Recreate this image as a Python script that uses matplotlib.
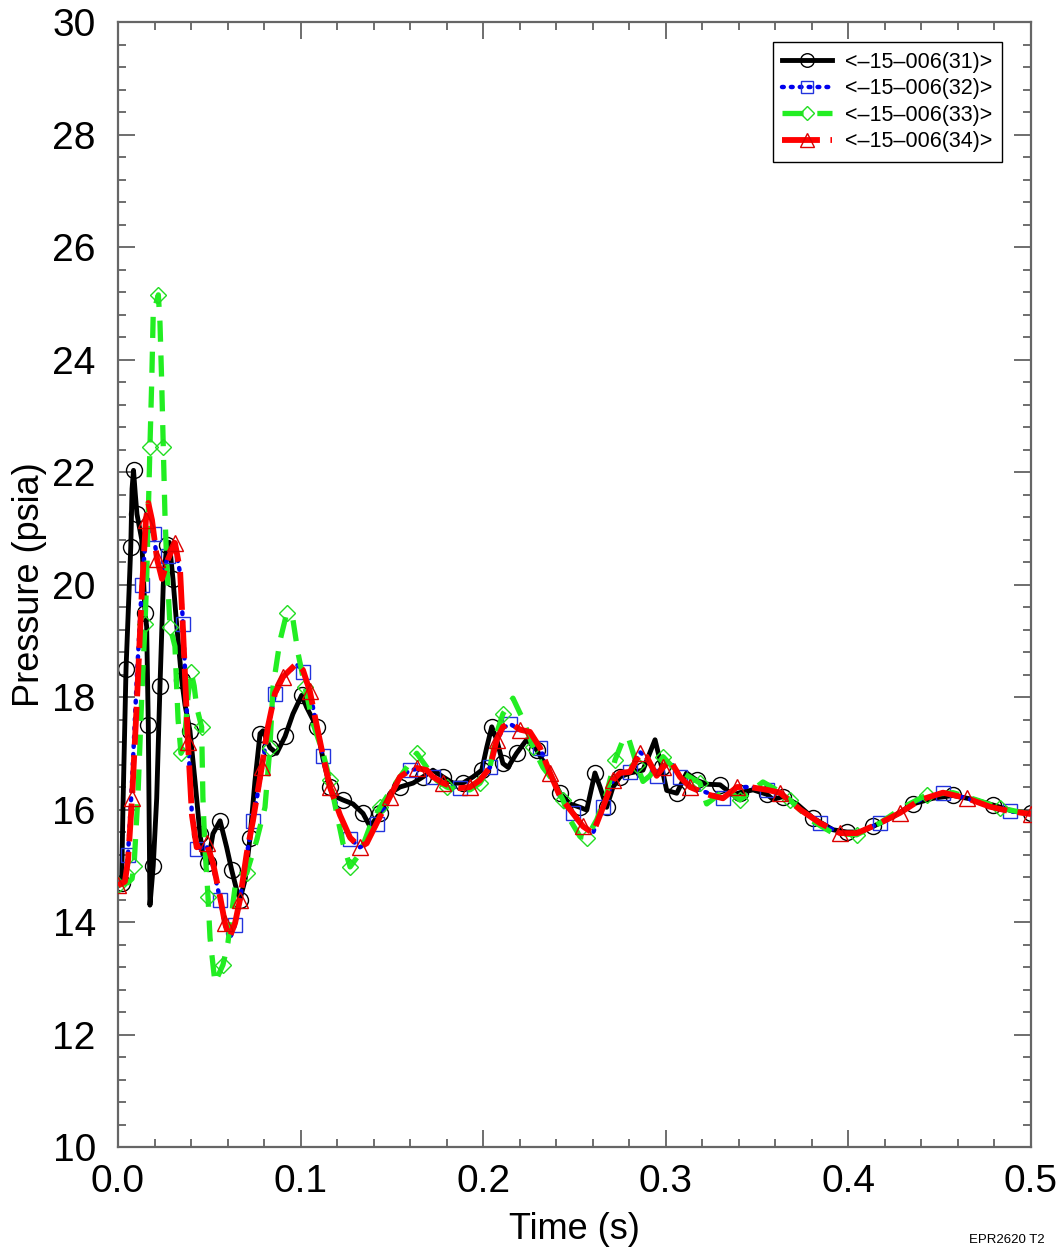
import numpy as np
import matplotlib
matplotlib.use("Agg")
from matplotlib import pyplot as plt
from matplotlib.legend_handler import HandlerLine2D
from matplotlib.ticker import MultipleLocator

plt.rcParams['font.family'] = ['Liberation Sans', 'DejaVu Sans']

t31 = [0, 0.002, 0.0027, 0.0044, 0.0056, 0.0070, 0.0077, 0.0085, 0.0095, 0.0104, 0.0130,
       0.0148, 0.0157, 0.0166, 0.0175, 0.0193, 0.0212, 0.0230, 0.0248, 0.0267, 0.0281,
       0.0301, 0.0321, 0.0349, 0.0367, 0.0394, 0.0422, 0.0449, 0.0465, 0.0493, 0.0520,
       0.0559, 0.0595, 0.0623, 0.0650, 0.0668, 0.0696, 0.0723, 0.0750, 0.0778, 0.0794,
       0.0832, 0.0869, 0.0915, 0.0958, 0.1006, 0.1033, 0.1088, 0.1123, 0.1161, 0.1177,
       0.1232, 0.1287, 0.1342, 0.1380, 0.1435, 0.1490, 0.1544, 0.1616, 0.1670, 0.1725,
       0.1780, 0.1835, 0.1889, 0.1944, 0.1992, 0.2019, 0.2047, 0.2074, 0.2108, 0.2136,
       0.2183, 0.2238, 0.2293, 0.2348, 0.2421, 0.2475, 0.2530, 0.2567, 0.2612, 0.2640,
       0.2676, 0.2711, 0.2749, 0.2804, 0.2875, 0.2941, 0.2978, 0.3005, 0.3060, 0.3114,
       0.3169, 0.3226, 0.3297, 0.3368, 0.3406, 0.3478, 0.3554, 0.3587, 0.3642, 0.3718,
       0.3806, 0.3916, 0.3992, 0.4064, 0.4135, 0.4244, 0.4354, 0.4463, 0.4573, 0.4682,
       0.4792, 0.4901, 0.5]
p31 = [14.65, 14.7, 16.0, 18.5, 19.5, 20.67, 21.7, 22.03, 21.6, 21.25, 20.8,
       19.5, 19.25, 17.5, 14.3, 15.0, 16.2, 18.2, 20.0, 20.7, 20.75,
       20.1, 19.3, 18.3, 17.86, 17.4, 16.5, 15.57, 15.2, 15.05, 15.57,
       15.8, 15.33, 14.92, 14.57, 14.4, 14.75, 15.5, 16.5, 17.35, 17.4,
       17.1, 17.0, 17.3, 17.7, 18.03, 17.82, 17.47, 16.9, 16.4, 16.25,
       16.17, 16.1, 15.93, 15.7, 15.93, 16.29, 16.4, 16.47, 16.58, 16.7,
       16.58, 16.47, 16.47, 16.58, 16.7, 17.1, 17.47, 17.24, 16.82, 16.75,
       17.0, 17.24, 17.06, 16.75, 16.29, 16.1, 16.04, 15.99, 16.65, 16.4,
       16.04, 16.4, 16.58, 16.65, 16.7, 17.24, 16.75, 16.34, 16.29, 16.65,
       16.52, 16.45, 16.44, 16.26, 16.3, 16.35, 16.27, 16.18, 16.23, 16.1,
       15.85, 15.64, 15.6, 15.6, 15.7, 15.87, 16.1, 16.2, 16.25, 16.18,
       16.08, 15.97, 15.93]

t32 = [0, 0.0038, 0.0055, 0.0077, 0.0104, 0.0131, 0.0153, 0.0175, 0.0195, 0.0214, 0.0241,
       0.0274, 0.0312, 0.0340, 0.0356, 0.0383, 0.0405, 0.0431, 0.0486, 0.0520, 0.0559,
       0.0586, 0.0612, 0.0641, 0.0668, 0.0705, 0.0739, 0.0787, 0.0821, 0.0860, 0.0904,
       0.0979, 0.1013, 0.1051, 0.1088, 0.1123, 0.1161, 0.1216, 0.1271, 0.1325, 0.1362,
       0.1417, 0.1490, 0.1544, 0.1599, 0.1636, 0.1691, 0.1725, 0.1780, 0.1835, 0.1873,
       0.1928, 0.1982, 0.2037, 0.2074, 0.2108, 0.2147, 0.2202, 0.2256, 0.2311, 0.2366,
       0.2421, 0.2492, 0.2547, 0.2601, 0.2656, 0.2711, 0.2749, 0.2804, 0.2859, 0.2895,
       0.2950, 0.2985, 0.3023, 0.3078, 0.3133, 0.3226, 0.3313, 0.3390, 0.3461, 0.3554,
       0.3625, 0.3735, 0.3844, 0.3954, 0.4047, 0.4173, 0.4282, 0.4392, 0.4518, 0.4650,
       0.4775, 0.4885, 0.5]
p32 = [14.65, 14.75, 15.2, 16.5, 18.4, 20.0, 20.85, 21.0, 20.9, 20.45, 20.15,
       20.5, 20.72, 20.2, 19.3, 17.3, 15.9, 15.3, 15.35, 15.0, 14.4,
       13.95, 13.7, 13.95, 14.4, 15.2, 15.8, 16.7, 17.45, 18.05, 18.35,
       18.58, 18.45, 18.08, 17.5, 16.95, 16.4, 15.9, 15.48, 15.33, 15.4,
       15.75, 16.22, 16.57, 16.7, 16.72, 16.7, 16.58, 16.47, 16.4, 16.38,
       16.4, 16.52, 16.75, 17.2, 17.45, 17.52, 17.42, 17.38, 17.1, 16.65,
       16.23, 15.93, 15.7, 15.58, 16.04, 16.52, 16.65, 16.67, 17.02, 16.92,
       16.6, 16.75, 16.86, 16.58, 16.4, 16.3, 16.2, 16.4, 16.4, 16.35,
       16.3, 16.0, 15.76, 15.58, 15.57, 15.76, 15.94, 16.17, 16.3, 16.2,
       16.05, 15.97, 15.92]

t33 = [0, 0.0055, 0.0077, 0.0088, 0.0110, 0.0130, 0.0148, 0.0157, 0.0166, 0.0175, 0.0185,
       0.0193, 0.0221, 0.0230, 0.0239, 0.0248, 0.0257, 0.0267, 0.0285, 0.0312, 0.0329,
       0.0345, 0.0361, 0.0383, 0.0400, 0.0417, 0.0431, 0.0458, 0.0465, 0.0476, 0.0493,
       0.0504, 0.0531, 0.0575, 0.0602, 0.0641, 0.0705, 0.0760, 0.0805, 0.0832, 0.0849,
       0.0887, 0.0924, 0.0958, 0.0986, 0.1024, 0.1068, 0.1123, 0.1161, 0.1198, 0.1232,
       0.1271, 0.1325, 0.1380, 0.1435, 0.1506, 0.1581, 0.1636, 0.1691, 0.1745, 0.1800,
       0.1855, 0.1928, 0.1982, 0.2037, 0.2074, 0.2108, 0.2163, 0.2218, 0.2273, 0.2327,
       0.2382, 0.2437, 0.2475, 0.2530, 0.2567, 0.2622, 0.2676, 0.2722, 0.2766, 0.2793,
       0.2841, 0.2875, 0.2913, 0.2985, 0.3039, 0.3094, 0.3187, 0.3224, 0.3333, 0.3406,
       0.3532, 0.3607, 0.3680, 0.3790, 0.3916, 0.4045, 0.4173, 0.4299, 0.4429, 0.4573,
       0.4703, 0.4830, 0.4976, 0.5]
p33 = [14.65, 14.7, 14.77, 15.0, 16.3, 18.0, 19.3, 20.08, 21.27, 22.45, 23.64,
       24.82, 25.15, 24.65, 23.64, 22.45, 21.27, 20.38, 19.25, 18.9, 17.6,
       17.0, 17.1, 18.0, 18.45, 18.2, 17.82, 17.47, 16.22, 15.33, 14.45,
       13.72, 12.92, 13.24, 13.63, 14.62, 14.87, 15.46, 16.04, 17.1, 18.18,
       19.0, 19.49, 19.38, 18.78, 18.18, 17.53, 17.0, 16.52, 15.93, 15.4,
       14.98, 15.22, 15.7, 16.04, 16.4, 16.75, 17.0, 16.75, 16.52, 16.4,
       16.35, 16.35, 16.47, 16.75, 17.36, 17.7, 17.98, 17.6, 17.11, 16.75,
       16.52, 16.17, 15.82, 15.52, 15.5, 15.82, 16.29, 16.88, 17.24, 17.3,
       16.8, 16.5, 16.6, 16.94, 16.75, 16.65, 16.47, 16.1, 16.37, 16.17,
       16.49, 16.35, 16.17, 15.82, 15.58, 15.55, 15.76, 16.04, 16.26, 16.3,
       16.17, 16.03, 15.93, 15.92]

t34 = [0, 0.0038, 0.0055, 0.0077, 0.0104, 0.0131, 0.0153, 0.0166, 0.0186, 0.0214, 0.0241,
       0.0274, 0.0312, 0.0340, 0.0356, 0.0383, 0.0405, 0.0431, 0.0486, 0.0520, 0.0559,
       0.0586, 0.0610, 0.0641, 0.0668, 0.0705, 0.0739, 0.0787, 0.0821, 0.0860, 0.0904,
       0.0979, 0.1013, 0.1051, 0.1088, 0.1123, 0.1161, 0.1216, 0.1271, 0.1325, 0.1362,
       0.1417, 0.1490, 0.1544, 0.1599, 0.1636, 0.1691, 0.1725, 0.1780, 0.1835, 0.1873,
       0.1928, 0.1982, 0.2037, 0.2074, 0.2108, 0.2147, 0.2202, 0.2256, 0.2311, 0.2366,
       0.2421, 0.2492, 0.2547, 0.2601, 0.2656, 0.2711, 0.2749, 0.2804, 0.2859, 0.2895,
       0.2950, 0.2985, 0.3023, 0.3078, 0.3133, 0.3226, 0.3313, 0.3390, 0.3461, 0.3554,
       0.3625, 0.3735, 0.3844, 0.3954, 0.4047, 0.4173, 0.4282, 0.4392, 0.4518, 0.4650,
       0.4775, 0.4885, 0.5]
p34 = [14.65, 14.72, 15.1, 16.2, 17.95, 19.9, 21.15, 21.45, 21.15, 20.45, 20.1,
       20.45, 20.74, 20.25, 19.2, 17.2, 15.9, 15.33, 15.4, 15.05, 14.45,
       13.98, 13.72, 13.98, 14.4, 15.22, 15.8, 16.75, 17.47, 18.07, 18.36,
       18.6, 18.48, 18.1, 17.5, 16.95, 16.4, 15.9, 15.5, 15.33, 15.4,
       15.76, 16.23, 16.58, 16.7, 16.74, 16.7, 16.58, 16.47, 16.4, 16.38,
       16.4, 16.52, 16.75, 17.24, 17.47, 17.54, 17.42, 17.38, 17.1, 16.65,
       16.23, 15.93, 15.7, 15.58, 16.04, 16.52, 16.65, 16.67, 17.0, 16.94,
       16.6, 16.75, 16.88, 16.58, 16.4, 16.27, 16.2, 16.4, 16.4, 16.35,
       16.3, 16.0, 15.76, 15.58, 15.58, 15.76, 15.94, 16.17, 16.3, 16.2,
       16.05, 15.97, 15.92]

labels = ['<\u201315\u2013006(31)>', '<\u201315\u2013006(32)>',
          '<\u201315\u2013006(33)>', '<\u201315\u2013006(34)>']


class EndMarkerHandler(HandlerLine2D):
    # line across the handle, marker at its right end
    def get_xdata(self, legend, xdescent, ydescent, width, height, fontsize):
        xdata = np.array([-xdescent, -xdescent + width])
        return xdata, np.array([-xdescent + width])


fig = plt.figure(figsize=(10.62, 12.51), dpi=100)
ax = fig.add_axes([0.1111, 0.0831, 0.8597, 0.8993])

l1, = ax.plot(t31, p31, color='black', lw=3.5, ls='-', marker='o', ms=11.5,
              mfc='none', mec='black', mew=1.0, markevery=(1, 2), zorder=2)
l2, = ax.plot(t32, p32, color='#0000ee', lw=3.2, ls=(0, (0.4, 1.6)), dash_capstyle='round',
              marker='s', ms=10, mfc='none', mec='#2233dd', mew=1.0,
              markevery=(2, 3), zorder=3)
l3, = ax.plot(t33, p33, color='#22ee22', lw=3.8, ls=(0, (4, 2.6)),
              marker='D', ms=8, mfc='none', mec='#22dd22', mew=1.0,
              markevery=(0, 3), zorder=4)
l4, = ax.plot(t34, p34, color='#ff0000', lw=4.2, ls=(0, (6.5, 1.8)),
              marker='^', ms=11.5, mfc='none', mec='#dd0000', mew=1.0,
              markevery=(0, 3), zorder=5)

ax.set_xlim(0, 0.5)
ax.set_ylim(10, 30)
ax.xaxis.set_major_locator(MultipleLocator(0.1))
ax.xaxis.set_minor_locator(MultipleLocator(0.02))
ax.yaxis.set_major_locator(MultipleLocator(2))
ax.yaxis.set_minor_locator(MultipleLocator(0.4))
ax.set_xticklabels([f'{v:.1f}' for v in ax.get_xticks()])

ax.tick_params(which='both', direction='in', top=True, right=True, color='#555555',
               labelsize=28, width=1.2)
ax.tick_params(which='major', length=12)
ax.tick_params(which='minor', length=6)
ax.tick_params(axis='y', which='major', pad=16)
ax.tick_params(axis='x', which='major', pad=12)
for s in ax.spines.values():
    s.set_color('#666666')
    s.set_linewidth(1.6)

ax.set_xlabel('Time (s)', fontsize=26, labelpad=9)
ax.set_ylabel('Pressure (psia)', fontsize=26, labelpad=4)

leg = ax.legend([l1, l2, l3, l4], labels, loc='upper right', fontsize=15.5,
                handler_map={l: EndMarkerHandler() for l in (l1, l2, l3, l4)},
                handlelength=2.3, handletextpad=0.6, borderpad=0.45, labelspacing=0.25,
                borderaxespad=0, fancybox=False, framealpha=1, edgecolor='black',
                bbox_to_anchor=(0.968, 0.982), markerscale=0.85)
leg.get_frame().set_linewidth(1.0)

fig.text(0.984, 0.004, 'EPR2620 T2', fontsize=9.5, ha='right', va='bottom')

fig.savefig('out.png', dpi=100)
